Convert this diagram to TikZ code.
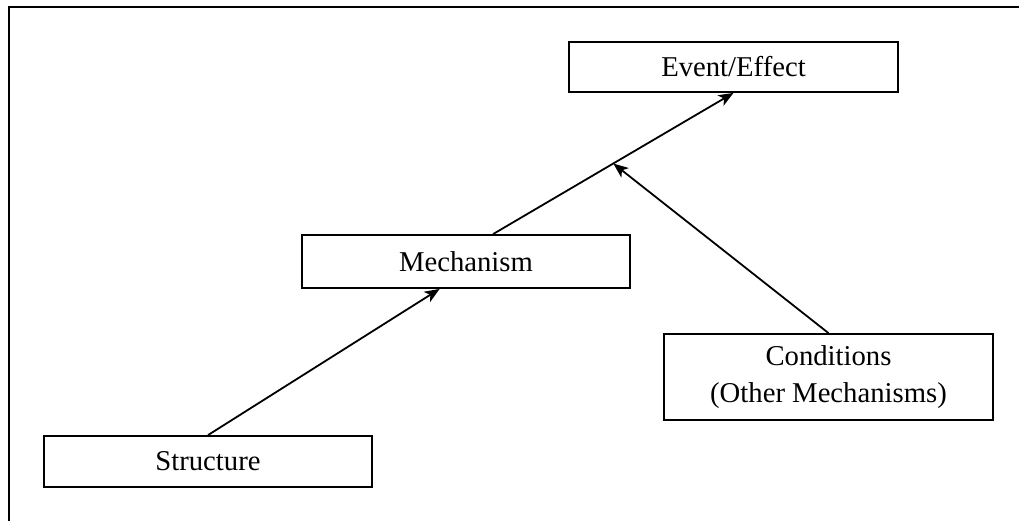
\documentclass[tikz,border=0pt]{standalone}
\usepackage{fontspec}
\setmainfont{Liberation Serif}
\usetikzlibrary{calc,arrows.meta}
\begin{document}
\begin{tikzpicture}[x=1pt,y=-1pt,
  stagebox/.style={draw, line width=1.8pt, inner sep=0pt, align=center,
    font=\fontsize{28.7}{37}\selectfont},
  link/.style={line width=1.8pt, -{Stealth[length=15pt,width=12pt,inset=4pt]}}]
  \useasboundingbox (0,0) rectangle (1019,520);
  % open frame: only the top and left sides
  \draw[line width=2.4pt, line cap=rect] (1019,7) -- (9,7) -- (9,520);

  \node[stagebox, minimum width=328pt, minimum height=51pt] (s) at (208,461.5) {Structure};
  \node[stagebox, minimum width=328pt, minimum height=53pt] (m) at (466,261.5) {Mechanism};
  \node[stagebox, minimum width=329pt, minimum height=50pt] (e) at (733.5,67) {Event/Effect};
  \node[stagebox, minimum width=329pt, minimum height=86pt] (c) at (828.5,377) {Conditions\\(Other Mechanisms)};

  \coordinate (mtop) at ($(m.north west)!0.582!(m.north east)$);
  \coordinate (join) at ($(mtop)!0.5!(e.south)$);

  \draw[link] (s.north) -- ($(m.south west)!0.42!(m.south east)$);
  \draw[link] (mtop) -- (e.south);
  \draw[link] (c.north) -- (join);
\end{tikzpicture}
\end{document}
